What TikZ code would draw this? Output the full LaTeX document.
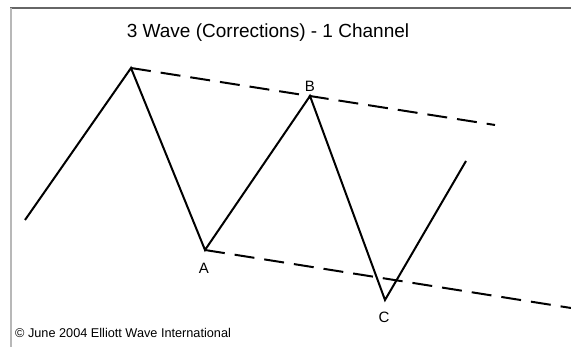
\documentclass[tikz,border=0pt]{standalone}
\usepackage{fontspec}
\setmainfont{Liberation Sans}
\begin{document}
\begin{tikzpicture}[x=1pt,y=-1pt,
  wave/.style={line width=2pt,line join=miter},
  channel/.style={line width=2pt,dash pattern=on 20pt off 10pt},
  lbl/.style={font=\fontsize{15}{17}\selectfont,inner sep=0pt}]
\useasboundingbox (0,0) rectangle (571,347);
\fill[white] (0,0) rectangle (571,347);
% frame
\draw[line width=1.5pt,color=black!60] (10,8) -- (571,8);
\draw[line width=2pt,color=black!28] (11,8) -- (11,347);
% title
\node[inner sep=0pt,font=\fontsize{19}{22}\selectfont] (title) at (268,33) {3 Wave (Corrections) - 1 Channel};
% points
\coordinate (s) at (25,220);
\coordinate (p) at (131,68);
\coordinate (a) at (205,250);
\coordinate (b) at (310,96);
\coordinate (c) at (385,300);
\coordinate (e) at (466,161);
\coordinate (u) at (495,125);
\coordinate (l) at (571,308);
% channels
\draw[channel] (p) -- (u);
\draw[channel] (a) -- (l);
% wave
\draw[wave] (s) -- (p) -- (a) -- (b) -- (c) -- (e);
% labels
\node[lbl] (la) at (204,268) {A};
\node[lbl] (lb) at (310,86) {B};
\node[lbl] (lc) at (384,317) {C};
\node[anchor=west,inner sep=0pt,font=\fontsize{12.7}{15}\selectfont] (copy) at (15,333) {© June 2004 Elliott Wave International};
\end{tikzpicture}
\end{document}
